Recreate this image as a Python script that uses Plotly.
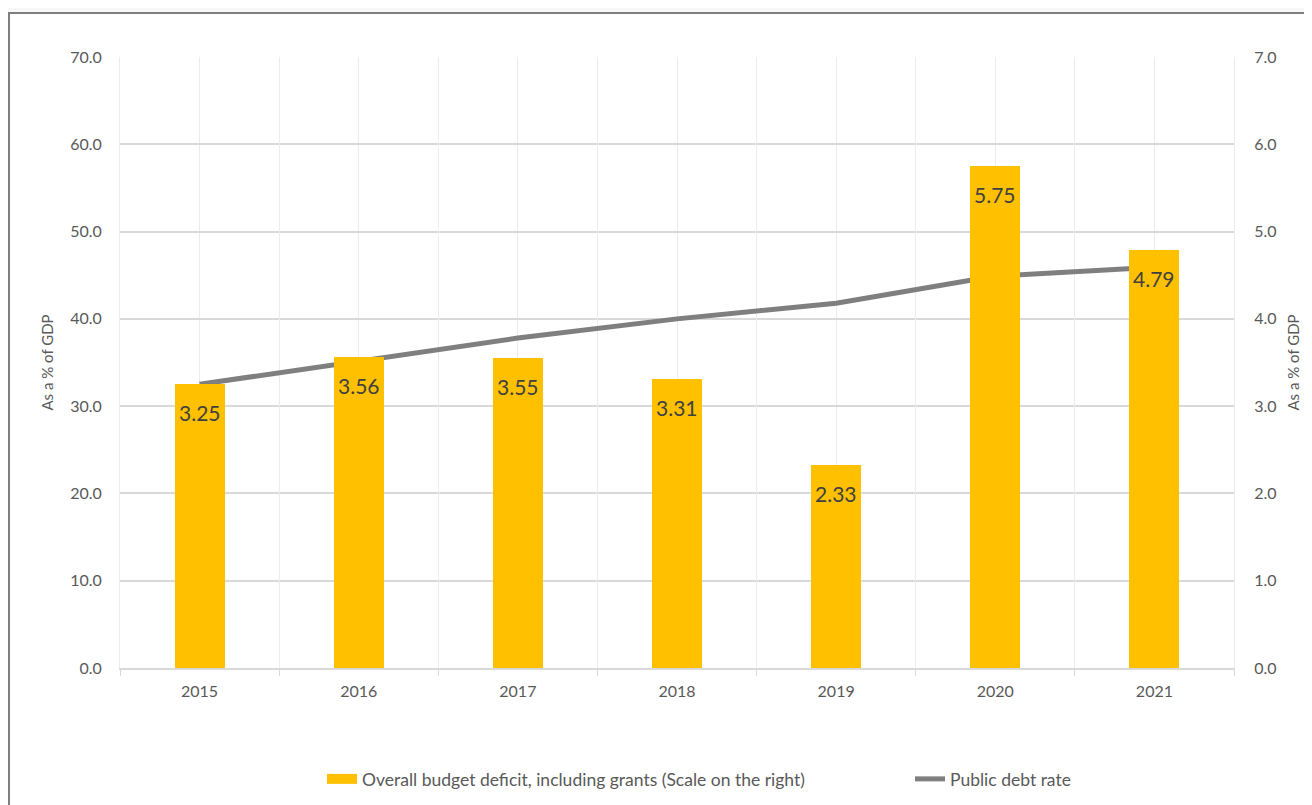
import plotly.graph_objects as go

years = [2015, 2016, 2017, 2018, 2019, 2020, 2021]
deficit = [3.25, 3.56, 3.55, 3.31, 2.33, 5.75, 4.79]
debt = [32.5, 35.2, 37.8, 40.0, 41.8, 44.9, 45.9]
deficit_labels = ["3.25", "3.56", "3.55", "3.31", "2.33", "5.75", "4.79"]
bar_name = "Overall budget deficit, including grants (Scale on the right)"
line_name = "Public debt rate"

FONT = "Lato, Carlito, Calibri, sans-serif"
TXT = "#595959"
GRID = "#d9d9d9"
VGRID = "#ececec"

OFF = 8  # body margin of the html page
W, H = 1312 - OFF, 805 - OFF
# plot area in page pixels
PL, PR, PT, PB = 120, 1234, 57, 668
L, R, T, B = PL - OFF, (OFF + W) - PR, PT - OFF, (OFF + H) - PB
pw, ph = PR - PL, PB - PT

def px_x(p):
    return (p - PL) / pw

def px_y(p):
    return (PB - p) / ph

def cont_y(p):
    return 1 - (p - OFF) / H

fig = go.Figure()

fig.add_trace(go.Bar(
    x=years, y=deficit, yaxis="y2", xaxis="x",
    name=bar_name, showlegend=False,
    marker=dict(color="#FFC000", line=dict(width=0)),
    width=0.315,
))

fig.add_trace(go.Scatter(
    x=years, y=debt, yaxis="y", xaxis="x",
    name=line_name, mode="lines", showlegend=False,
    line=dict(color="#7f7f7f", width=5),
))

# legend entries (wide rectangular keys like the original)
fig.add_trace(go.Scatter(x=[None], y=[None], mode="lines", name=bar_name,
                         line=dict(color="#FFC000", width=12), yaxis="y2",
                         legend="legend"))
fig.add_trace(go.Scatter(x=[None], y=[None], mode="lines", name=line_name,
                         line=dict(color="#7f7f7f", width=5), yaxis="y",
                         legend="legend2"))

for yr, v, t in zip(years, deficit, deficit_labels):
    fig.add_annotation(x=yr, y=v, xref="x", yref="y2", text=t, showarrow=False,
                       yanchor="top", yshift=-14,
                       font=dict(family=FONT, size=21, color="#404040"))

boundaries = [years[0] - 0.5 + i for i in range(len(years) + 1)]

legend_common = dict(
    orientation="h", xanchor="left",
    yref="container", y=cont_y(779), yanchor="middle",
    font=dict(size=17.5, color=TXT),
    bgcolor="rgba(0,0,0,0)",
)

fig.update_layout(
    width=W, height=H,
    margin=dict(l=L, r=R, t=T, b=B),
    paper_bgcolor="#f7f7f7",
    plot_bgcolor="white",
    font=dict(family=FONT, size=17, color=TXT),
    showlegend=True,
    bargap=0,
    xaxis=dict(
        range=[years[0] - 0.5, years[-1] + 0.5],
        tickvals=years, ticktext=[str(y) for y in years],
        showgrid=True, gridcolor=VGRID, gridwidth=1,
        ticks="", zeroline=False, showline=False,
        tickfont=dict(size=16, color=TXT),
        ticklabelstandoff=12,
    ),
    xaxis2=dict(
        range=[years[0] - 0.5, years[-1] + 0.5],
        overlaying="x", side="bottom",
        tickvals=boundaries, showticklabels=False,
        showgrid=True, gridcolor=VGRID, gridwidth=1,
        ticks="outside", ticklen=6, tickcolor=GRID, tickwidth=1,
        showline=True, linecolor=GRID, linewidth=1.5,
        zeroline=False,
    ),
    yaxis=dict(
        range=[0, 70], dtick=10, tickformat=".1f",
        showgrid=True, gridcolor=GRID, gridwidth=1.5,
        zeroline=False, showline=True, linecolor=VGRID, linewidth=1,
        tickfont=dict(size=16, color=TXT),
        title=dict(text="As a % of GDP", font=dict(size=15, color=TXT), standoff=12),
        ticklabelstandoff=14,
    ),
    yaxis2=dict(
        range=[0, 7], dtick=1, tickformat=".1f",
        overlaying="y", side="right",
        showgrid=False, zeroline=False, showline=True, linecolor=VGRID, linewidth=1,
        tickfont=dict(size=16, color=TXT),
        title=dict(text="As a % of GDP", font=dict(size=15, color=TXT), standoff=12),
        ticklabelstandoff=16,
    ),
    legend=dict(x=px_x(322), **legend_common),
    legend2=dict(x=px_x(910), **legend_common),
)

# dummy trace on xaxis2 so it is drawn
fig.add_trace(go.Scatter(x=[years[0]], y=[None], xaxis="x2", yaxis="y",
                         showlegend=False, hoverinfo="skip"))

# chart border frame
fig.add_shape(type="rect", xref="paper", yref="paper",
              x0=px_x(9), x1=px_x(1330), y0=px_y(830), y1=px_y(13),
              line=dict(color="#7f7f7f", width=2), fillcolor="white", layer="below")

fig.write_html("out.html")
